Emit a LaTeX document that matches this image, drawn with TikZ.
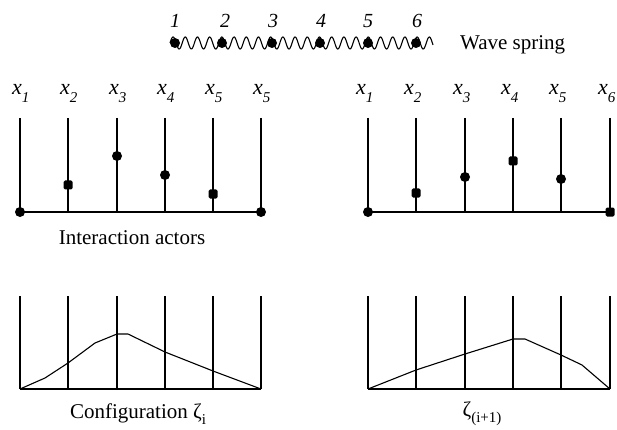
\documentclass[tikz,border=0pt]{standalone}
\usepackage{fontspec}
\setmainfont{Liberation Serif}
\begin{document}
\begin{tikzpicture}[x=1pt,y=-1pt,
  bar/.style={line width=1.3pt},
  base/.style={line width=1.7pt},
  curve/.style={line width=1.1pt,line join=round},
  spring/.style={line width=1.1pt},
  dot/.style={circle,fill,inner sep=0pt,minimum size=10pt},
  sqdot/.style={rectangle,rounded corners=1.5pt,fill,inner sep=0pt,minimum size=9pt},
  numlab/.style={font=\fontsize{20}{20}\selectfont\itshape},
  lab/.style={font=\fontsize{22}{22}\selectfont\itshape,anchor=base west,inner sep=0pt},
  captext/.style={font=\fontsize{21}{24}\selectfont}]
\useasboundingbox (0,0) rectangle (617,430);

% ---- wave spring
\foreach \n/\x in {1/175,2/225,3/273,4/321,5/368,6/417}
  \node[numlab] (num\n) at (\x,21) {\n};
\draw[spring] plot[domain=0:263,samples=500,smooth,variable=\t] ({170+\t},{43-6*sin(29.5*\t)});
\foreach \n/\x in {1/175,2/222,3/272,4/320,5/368,6/416}
  \node[dot] (s\n) at (\x,43) {};
\node[captext,anchor=west,inner sep=0pt] (ws) at (460,45) {Wave spring};

% ---- top-left panel
\foreach \n/\x in {1/20,2/68,3/117,4/165,5/213,6/261}{
  \coordinate (lt\n) at (\x,118);
  \coordinate (lb\n) at (\x,212);
  \draw[bar] (lt\n) -- (lb\n);
}
\draw[base] (lb1) -- (lb6);
\foreach \n/\x/\s in {1/20/1,2/68/2,3/117/3,4/165/4,5/213/5,6/261/5}
  \node[lab] (lx\n) at (\x-8,95) {x\raisebox{-0.35em}{\fontsize{15}{15}\selectfont\s}};
\node[dot] (la1) at (lb1) {};
\node[sqdot] (la2) at (68,185) {};
\node[dot] (la3) at (117,156) {};
\node[dot] (la4) at (165,175) {};
\node[sqdot] (la5) at (213,194) {};
\node[dot] (la6) at (lb6) {};
\node[captext] (ia) at (132,238) {Interaction actors};

% ---- top-right panel
\foreach \n/\x in {1/368,2/416,3/465,4/513,5/561,6/610}{
  \coordinate (rt\n) at (\x,118);
  \coordinate (rb\n) at (\x,212);
  \draw[bar] (rt\n) -- (rb\n);
}
\draw[base] (rb1) -- (rb6);
\foreach \n/\x in {1/368,2/416,3/465,4/513,5/561,6/610}
  \node[lab] (rx\n) at (\x-12,95) {x\raisebox{-0.35em}{\fontsize{15}{15}\selectfont\n}};
\node[dot] (ra1) at (rb1) {};
\node[sqdot] (ra2) at (416,193) {};
\node[dot] (ra3) at (465,177) {};
\node[sqdot] (ra4) at (513,161) {};
\node[dot] (ra5) at (561,179) {};
\node[sqdot] (ra6) at (rb6) {};

% ---- bottom-left panel
\foreach \n/\x in {1/20,2/68,3/117,4/165,5/213,6/261}{
  \coordinate (ct\n) at (\x,296);
  \coordinate (cb\n) at (\x,389);
  \draw[bar] (ct\n) -- (cb\n);
}
\draw[base] (cb1) -- (cb6);
\draw[curve] (cb1) -- (45,378) -- (68,363) -- (95,343) -- (117,334) -- (128,334)
  -- (165,352) -- (213,371) -- (cb6);
\node[captext] (cfg) at (138,414) {Configuration ζ\raisebox{-0.3em}{\fontsize{15}{15}\selectfont i}};

% ---- bottom-right panel
\foreach \n/\x in {1/368,2/416,3/465,4/513,5/561,6/610}{
  \coordinate (dt\n) at (\x,296);
  \coordinate (db\n) at (\x,389);
  \draw[bar] (dt\n) -- (db\n);
}
\draw[base] (db1) -- (db6);
\draw[curve] (db1) -- (416,370) -- (465,354) -- (513,339) -- (525,339)
  -- (561,355) -- (582,365) -- (db6);
\node[captext] (zn) at (482,414) {ζ\raisebox{-0.3em}{\fontsize{15}{15}\selectfont (i+1)}};
\end{tikzpicture}
\end{document}
